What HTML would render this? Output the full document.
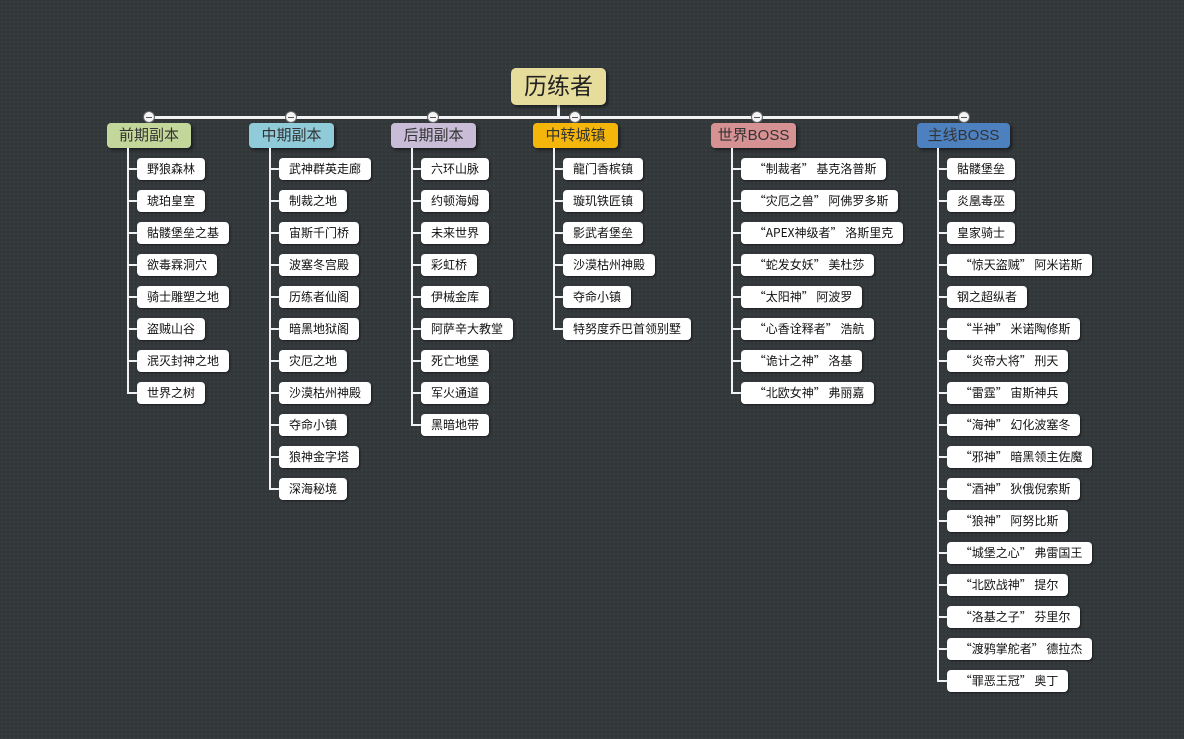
<!DOCTYPE html>
<html><head><meta charset="utf-8"><style>
body{margin:0;width:1184px;height:739px;overflow:hidden;background:#32373a;background-image:radial-gradient(#3b4043 1px,transparent 1px);background-size:4px 4px;font-family:"Liberation Sans","Noto Sans CJK SC",sans-serif;position:relative}
.a{position:absolute}
.root{left:511px;top:68px;width:95px;height:37px;background:#e6dc9c;border-radius:5px;font-size:23px;line-height:37px;text-align:center;color:#222;box-shadow:2px 2px 3px rgba(0,0,0,.5)}
.br{position:absolute;top:123px;height:25px;line-height:25px;border-radius:4px;font-size:15px;color:#333;text-align:center;box-shadow:2px 2px 3px rgba(0,0,0,.5)}
.c{position:absolute;height:22px;line-height:22px;background:#fff;border-radius:4px;font-size:12px;color:#111;padding:0 10px;white-space:pre;box-shadow:1px 1px 2px rgba(0,0,0,.5);font-family:"Noto Sans CJK SC","Liberation Sans",sans-serif}
.l{position:absolute;background:#f2f2f2}
.dot{position:absolute;width:12px;height:12px;border-radius:50%;background:#f5f5f5;border:1px solid #666;box-sizing:border-box;top:111px}
.dot:after{content:"";position:absolute;left:2px;right:2px;top:5px;height:1px;background:#555}
</style></head><body>
<div class="l" style="left:149px;top:116px;width:815px;height:3px"></div>
<div class="l" style="left:557px;top:104px;width:3px;height:13px"></div>
<div class="a root">历练者</div>
<div id="g"></div>
<script>
const B=[
[149,107,84,"#c3d79a","前期副本",["野狼森林","琥珀皇室","骷髅堡垒之基","欲毒霖洞穴","骑士雕塑之地","盗贼山谷","泯灭封神之地","世界之树"]],
[291,249,85,"#8fcbd8","中期副本",["武神群英走廊","制裁之地","宙斯千门桥","波塞冬宫殿","历练者仙阁","暗黑地狱阁","灾厄之地","沙漠枯州神殿","夺命小镇","狼神金字塔","深海秘境"]],
[433,391,85,"#c8bcd7","后期副本",["六环山脉","约顿海姆","未来世界","彩虹桥","伊械金库","阿萨辛大教堂","死亡地堡","军火通道","黑暗地带"]],
[575,533,85,"#f4b60a","中转城镇",["龍门香槟镇","璇玑铁匠镇","影武者堡垒","沙漠枯州神殿","夺命小镇","特努度乔巴首领别墅"]],
[757,711,85,"#d69193","世界BOSS",[" “制裁者” 基克洛普斯"," “灾厄之兽” 阿佛罗多斯"," “APEX神级者” 洛斯里克"," “蛇发女妖” 美杜莎"," “太阳神” 阿波罗"," “心香诠释者” 浩航"," “诡计之神” 洛基"," “北欧女神” 弗丽嘉"]],
[964,917,93,"#4d80bf","主线BOSS",["骷髅堡垒","炎凰毒巫","皇家骑士"," “惊天盗贼” 阿米诺斯","钢之超纵者"," “半神” 米诺陶修斯"," “炎帝大将” 刑天"," “雷霆” 宙斯神兵"," “海神” 幻化波塞冬"," “邪神” 暗黑领主佐魔"," “酒神” 狄俄倪索斯"," “狼神” 阿努比斯"," “城堡之心” 弗雷国王"," “北欧战神” 提尔"," “洛基之子” 芬里尔"," “渡鸦掌舵者” 德拉杰"," “罪恶王冠” 奥丁"]]];
let h="";
for(const [cx,x,w,col,t,items] of B){
 h+=`<div class="dot" style="left:${cx-6}px"></div>`;
 h+=`<div class="br" style="left:${x}px;width:${w}px;background:${col}">${t}</div>`;
 const vx=x+20, last=169+32*(items.length-1);
 h+=`<div class="l" style="left:${vx}px;top:148px;width:2px;height:${last-148+1}px"></div>`;
 items.forEach((s,i)=>{const y=169+32*i;
  h+=`<div class="l" style="left:${vx}px;top:${y-1}px;width:10px;height:2px"></div>`;
  h+=`<div class="c" style="left:${x+30}px;top:${y-11}px">${s}</div>`;});
}
document.getElementById("g").innerHTML=h;
</script>
</body></html>
